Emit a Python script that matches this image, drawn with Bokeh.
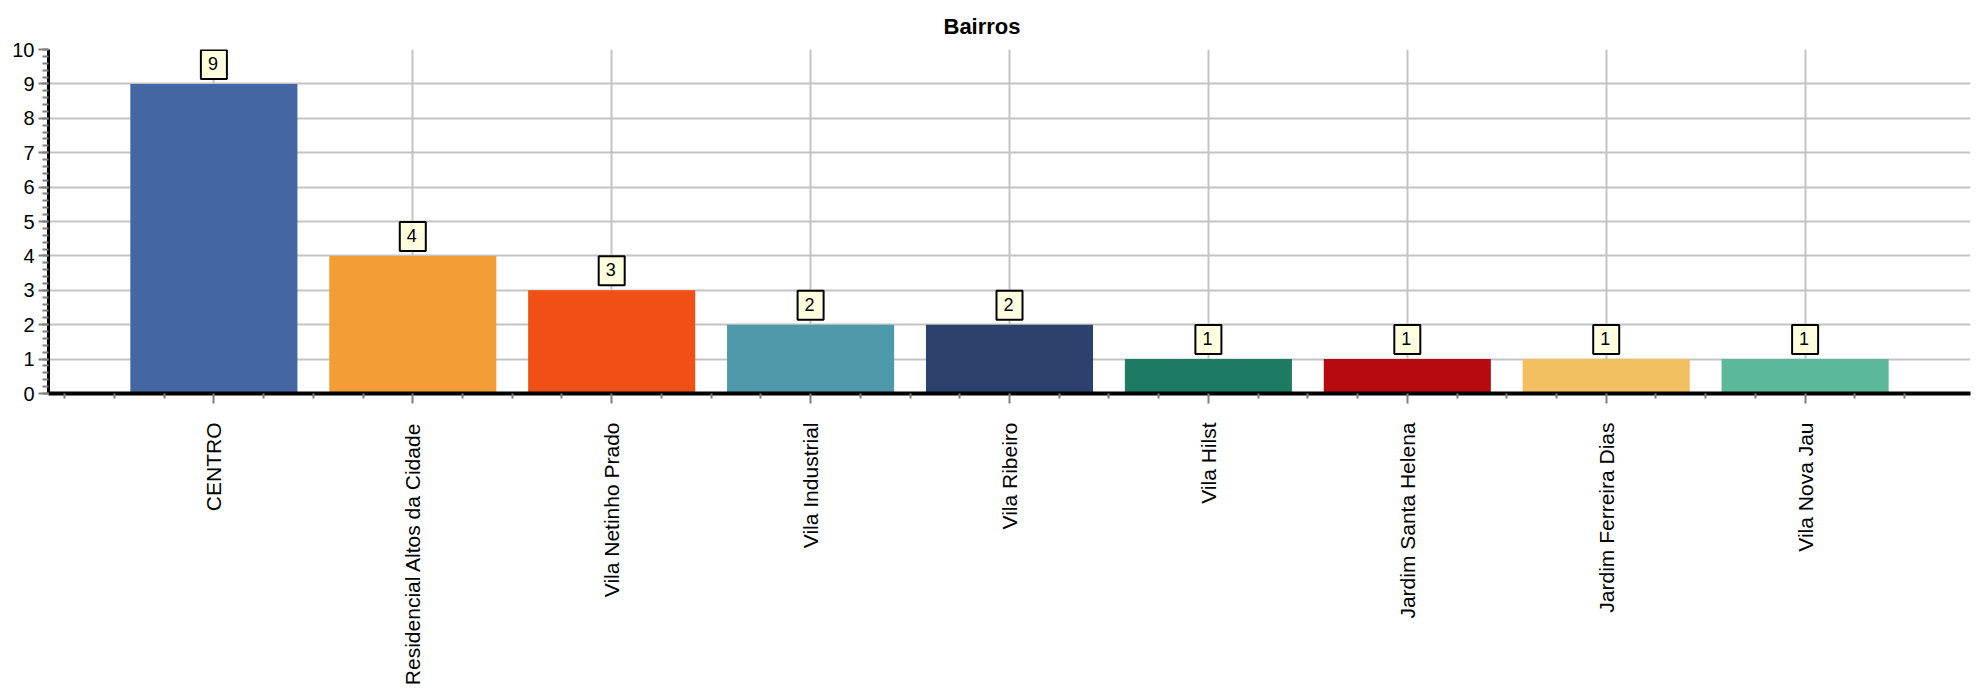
import math
from bokeh.plotting import figure
from bokeh.models import (Range1d, FixedTicker, SingleIntervalTicker, ColumnDataSource)
from bokeh.embed import file_html
from bokeh.resources import INLINE
from bokeh.core.properties import value

# ---- data ----
bairros = ["CENTRO", "Residencial Altos da Cidade", "Vila Netinho Prado",
           "Vila Industrial", "Vila Ribeiro", "Vila Hilst",
           "Jardim Santa Helena", "Jardim Ferreira Dias", "Vila Nova Jau"]
contagens = [9, 4, 3, 2, 2, 1, 1, 1, 1]
cores = ["#4466A3", "#F39D36", "#F04F16", "#4E99AA", "#2D416D",
         "#1E7B63", "#B70A10", "#F2C060", "#5CB89D"]
rotulos = [str(v) for v in contagens]
titulo = "Bairros"

FONT = "Liberation Sans"
PAD = 0.8315          # half category + outer padding
n = len(bairros)
posicoes = list(range(n))   # category slot index

src = ColumnDataSource(dict(pos=posicoes, bairro=bairros, contagem=contagens,
                            cor=cores, rotulo=rotulos))

p = figure(width=1983, height=697,
           x_range=Range1d(-PAD, n - 1 + PAD),
           y_range=Range1d(0, 10),
           output_backend="svg", toolbar_location=None,
           min_border_left=48, min_border_right=13,
           min_border_top=49, min_border_bottom=304)
p.outline_line_color = None
p.background_fill_color = "white"
p.border_fill_color = "white"

# title
p.title.text = titulo
p.title.align = "left"
p.title.offset = 895
p.title.standoff = 21
p.title.text_font = FONT
p.title.text_font_size = "22px"
p.title.text_font_style = "bold"
p.title.text_color = "black"

# y axis
yax = p.yaxis[0]
yax.ticker = SingleIntervalTicker(interval=1, num_minor_ticks=5)
yax.axis_line_color = "black"
yax.axis_line_width = 3
yax.major_tick_line_color = "#808080"
yax.major_tick_line_width = 2
yax.major_tick_out = 10
yax.major_tick_in = 0
yax.minor_tick_line_color = "#808080"
yax.minor_tick_line_width = 2
yax.minor_tick_out = 6
yax.minor_tick_in = 0
yax.major_label_text_font = FONT
yax.major_label_text_font_size = "20px"
yax.major_label_text_color = "black"
yax.major_label_standoff = 4

p.ygrid.grid_line_color = "#c4c4c4"
p.ygrid.grid_line_width = 2

# x axis: categories at slot centres, quarter-slot minor ticks
minor = [k * 0.25 for k in range(-3, 4 * n - 1) if k % 4 != 0]
xax = p.xaxis[0]
xax.ticker = FixedTicker(ticks=posicoes, minor_ticks=minor)
xax.major_label_overrides = {i: b for i, b in zip(posicoes, bairros)}
xax.major_label_orientation = math.pi / 2
xax.axis_line_color = "black"
xax.axis_line_width = 4
xax.major_tick_line_color = "#808080"
xax.major_tick_line_width = 2
xax.major_tick_out = 10
xax.major_tick_in = 0
xax.minor_tick_line_color = "#808080"
xax.minor_tick_line_width = 2
xax.minor_tick_out = 5
xax.minor_tick_in = 0
xax.major_label_text_font = FONT
xax.major_label_text_font_size = "21px"
xax.major_label_text_color = "black"
xax.major_label_standoff = 19

p.xgrid.grid_line_color = "#c4c4c4"
p.xgrid.grid_line_width = 2

p.vbar(x="pos", top="contagem", width=0.84, fill_color="cor",
       line_color=None, source=src)

p.text(x="pos", y="contagem", text="rotulo", anchor="bottom_center",
       y_offset=-5, text_font=value(FONT), text_font_size="18px",
       text_color="black", background_fill_color="#FFFFE0",
       border_line_color="black", border_line_width=2, padding=(7, 9, 7, 9),
       source=src)

open("out.html", "w").write(file_html(p, INLINE))
